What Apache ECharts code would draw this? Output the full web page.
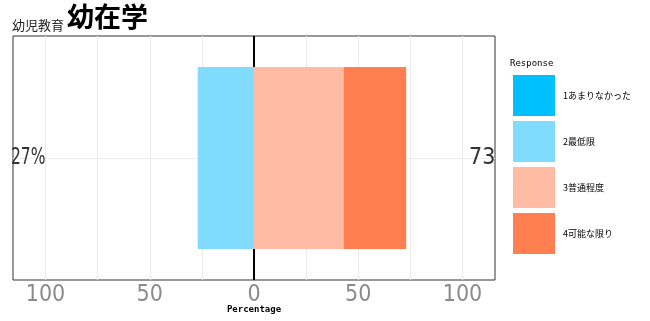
<!DOCTYPE html>
<html><head><meta charset="utf-8">
<script src="https://cdn.jsdelivr.net/npm/echarts@6/dist/echarts.min.js"></script>
<style>html,body{margin:0;padding:0;background:#fff}#c{width:650px;height:321px}</style>
</head><body><div id="c"></div>
<script>
const categories = ['幼在学'];
const levels = ['1あまりなかった', '2最低限', '3普通程度', '4可能な限り'];
const level1 = [0];
const level2 = [27];
const level3 = [43];
const level4 = [30];
const tickValues = [-100, -50, 0, 50, 100];
const gridValues = [-100, -75, -50, -25, 25, 50, 75, 100];
const colors = ['#00BFFF', '#80DBFF', '#FFBBA3', '#FF7F50'];

const leftTotal = level1[0] + level2[0];
const rightTotal = level3[0] + level4[0];
const narrow = "'Liberation Sans Narrow','DejaVu Sans Condensed',sans-serif";

const chart = echarts.init(document.getElementById('c'), null, {renderer: 'canvas'});
chart.setOption({
  animation: false,
  backgroundColor: '#fff',
  title: [
    {text: '幼児教育', left: 12, top: 19, padding: 0, textStyle: {fontSize: 13, fontWeight: 'normal', color: '#222', fontFamily: "'Noto Sans CJK JP'"}},
    {text: categories[0], left: 67, top: 3, padding: 0, textStyle: {fontSize: 27, fontWeight: 'bold', color: '#000', fontFamily: "'Noto Sans CJK JP'"}},
    {text: 'Response', left: 510, top: 59, padding: 0, textStyle: {fontSize: 9, fontWeight: 'normal', color: '#000', fontFamily: "'DejaVu Sans Mono',monospace"}}
  ],
  grid: {left: 13, right: 155, top: 36, bottom: 41, outerBoundsMode: 'none', containLabel: false, show: true, borderColor: '#333', borderWidth: 1, backgroundColor: '#fff'},
  legend: {
    data: levels, orient: 'vertical', left: 513, top: 75, padding: 0, itemWidth: 42, itemHeight: 41, itemGap: 5,
    icon: 'rect', selectedMode: false,
    textStyle: {fontSize: 9, color: '#000', fontFamily: "'Noto Sans CJK JP'", padding: [0, 0, 0, 3]}
  },
  xAxis: {
    type: 'value', min: -115.6, max: 115.6,
    axisLine: {show: false}, axisTick: {show: false}, splitLine: {show: false},
    axisLabel: {customValues: tickValues, formatter: v => String(Math.abs(v)), fontSize: 23, color: '#8a8a8a', fontFamily: narrow, margin: 4},
    name: 'Percentage', nameLocation: 'middle', nameGap: 25, nameMoveOverlap: false,
    nameTextStyle: {fontSize: 9, fontWeight: 'bold', color: '#000', fontFamily: "'DejaVu Sans Mono',monospace"}
  },
  yAxis: {
    type: 'category', data: categories,
    axisLine: {show: false}, axisTick: {show: false}, axisLabel: {show: false}, splitLine: {show: false}
  },
  series: [
    {type: 'line', data: [], z: 1, silent: true,
     markLine: {z: 1, silent: true, symbol: 'none', label: {show: false},
       lineStyle: {color: '#ebebeb', width: 1, type: 'solid'},
       data: gridValues.map(v => ({xAxis: v})).concat([{yAxis: categories[0]}])}},
    {type: 'line', data: [], z: 1, silent: true,
     markLine: {z: 1, silent: true, symbol: 'none', label: {show: false},
       lineStyle: {color: '#000', width: 2, type: 'solid'},
       data: [{xAxis: 0}]}},
    {name: levels[1], type: 'bar', stack: 't', z: 3, barWidth: '74.6%', itemStyle: {color: colors[1]}, data: level2.map(v => -v)},
    {name: levels[0], type: 'bar', stack: 't', z: 3, barWidth: '74.6%', itemStyle: {color: colors[0]}, data: level1.map(v => -v)},
    {name: levels[2], type: 'bar', stack: 't', z: 3, barWidth: '74.6%', itemStyle: {color: colors[2]}, data: level3},
    {name: levels[3], type: 'bar', stack: 't', z: 3, barWidth: '74.6%', itemStyle: {color: colors[3]}, data: level4}
  ],
  graphic: [
    {type: 'text', x: 11, y: 147, scaleX: 0.75, z: 10, style: {text: leftTotal + '%', fontSize: 23, fill: '#333', fontFamily: narrow}},
    {type: 'text', x: 469, y: 147, z: 10, style: {text: String(rightTotal), fontSize: 23, fill: '#333', fontFamily: narrow}}
  ]
});
</script></body></html>
